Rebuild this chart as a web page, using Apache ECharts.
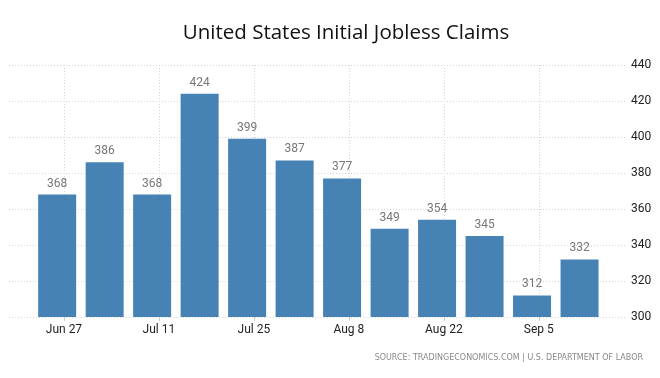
<!DOCTYPE html>
<html>
<head>
<meta charset="utf-8">
<script src="https://cdn.jsdelivr.net/npm/echarts@6/dist/echarts.min.js"></script>
<style>html,body{margin:0;padding:0;background:#fff}#c{width:660px;height:378px}</style>
</head>
<body>
<div id="c"></div>
<script>
const weekEnding = ['2021-06-26','2021-07-03','2021-07-10','2021-07-17','2021-07-24','2021-07-31','2021-08-07','2021-08-14','2021-08-21','2021-08-28','2021-09-04','2021-09-11'];
const claims = [368, 386, 368, 424, 399, 387, 377, 349, 354, 345, 312, 332];
const tickDates = ['2021-06-27','2021-07-11','2021-07-25','2021-08-08','2021-08-22','2021-09-05'];
const tickLabels = ['Jun 27','Jul 11','Jul 25','Aug 8','Aug 22','Sep 5'];
const titleText = 'United States Initial Jobless Claims';
const sourceText = 'SOURCE: TRADINGECONOMICS.COM | U.S. DEPARTMENT OF LABOR';

const origin = Date.parse('2021-06-27');
const toDay = d => (Date.parse(d) - origin) / 86400000;
const tickDays = tickDates.map(toDay);
const labelMap = {};
tickDays.forEach((d, i) => { labelMap[d] = tickLabels[i]; });

const chart = echarts.init(document.getElementById('c'), null, {renderer: 'canvas'});
chart.setOption({
  animation: false,
  backgroundColor: '#fff',
  title: {
    text: titleText,
    left: 341, top: 18, textAlign: 'center',
    textStyle: {fontFamily: 'Open Sans', fontSize: 20.5, fontWeight: 'normal', color: '#111'}
  },
  graphic: [{
    type: 'text', right: 17, top: 354,
    style: {text: sourceText, fontFamily: 'DejaVu Sans', fontSize: 8, fill: '#8a8a8a'}
  }],
  grid: {left: 9, right: 35, top: 65, bottom: 61},
  xAxis: {
    type: 'value', min: -8.1, max: 82.7,
    axisLine: {show: false},
    axisTick: {show: true, length: 4, customValues: tickDays, lineStyle: {color: '#ccc'}},
    axisLabel: {customValues: tickDays, formatter: v => labelMap[v] || '', color: '#222', fontFamily: 'Roboto', fontSize: 12, margin: 7},
    splitLine: {show: true, lineStyle: {color: '#d4d4d4', type: [1, 2], width: 1}}
  },
  yAxis: {
    type: 'value', position: 'right', min: 300, max: 440, interval: 20,
    axisLine: {show: false}, axisTick: {show: false},
    axisLabel: {color: '#222', fontFamily: 'Roboto', fontSize: 12, margin: 6},
    splitLine: {show: true, lineStyle: {color: '#d4d4d4', type: [1, 2], width: 1}}
  },
  series: [{
    type: 'bar',
    barWidth: 38,
    data: weekEnding.map((d, i) => [toDay(d), claims[i]]),
    itemStyle: {color: '#4682b4'},
    label: {show: true, position: 'top', distance: 5, color: '#777', fontFamily: 'Roboto', fontSize: 12}
  }]
});
</script>
</body>
</html>
